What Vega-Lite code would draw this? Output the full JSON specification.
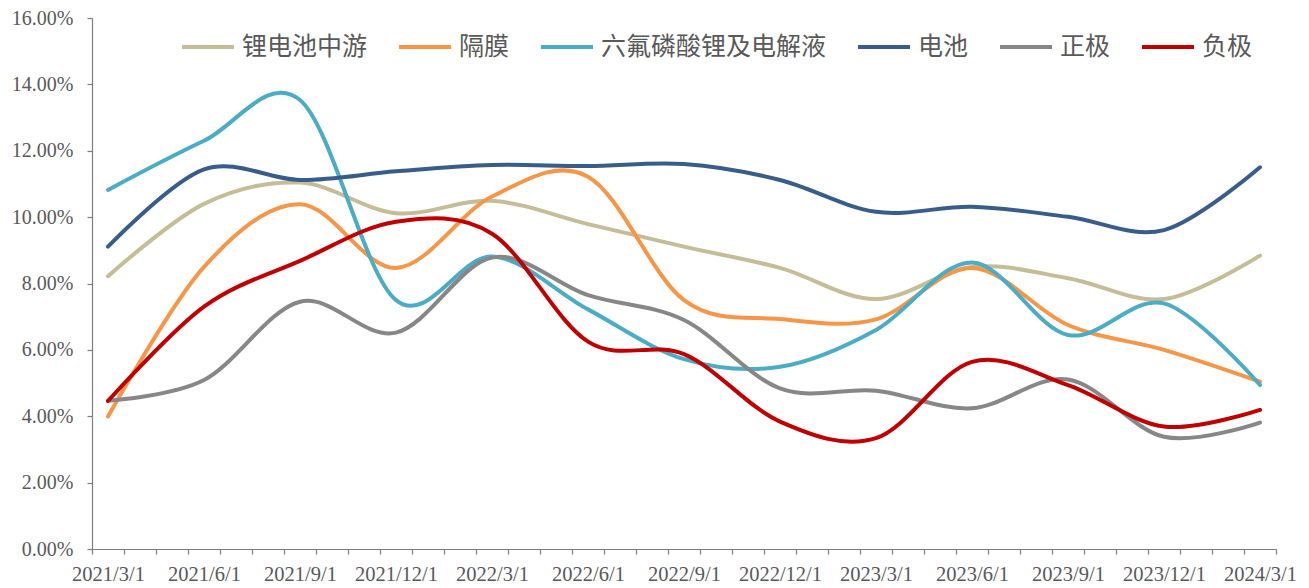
{
  "$schema": "https://vega.github.io/schema/vega-lite/v6.json",
  "width": 1184,
  "height": 531,
  "autosize": {"type": "none"},
  "padding": {"left": 92, "top": 18, "right": 33, "bottom": 39},
  "background": "white",
  "config": {"view": {"stroke": null}},
  "data": {"values": [
    {"date": "2021-03", "series": "锂电池中游", "value": 0.0822},
    {"date": "2021-06", "series": "锂电池中游", "value": 0.1040},
    {"date": "2021-09", "series": "锂电池中游", "value": 0.1104},
    {"date": "2021-12", "series": "锂电池中游", "value": 0.1012},
    {"date": "2022-03", "series": "锂电池中游", "value": 0.1049},
    {"date": "2022-06", "series": "锂电池中游", "value": 0.0979},
    {"date": "2022-09", "series": "锂电池中游", "value": 0.0911},
    {"date": "2022-12", "series": "锂电池中游", "value": 0.0847},
    {"date": "2023-03", "series": "锂电池中游", "value": 0.0753},
    {"date": "2023-06", "series": "锂电池中游", "value": 0.0850},
    {"date": "2023-09", "series": "锂电池中游", "value": 0.0816},
    {"date": "2023-12", "series": "锂电池中游", "value": 0.0753},
    {"date": "2024-03", "series": "锂电池中游", "value": 0.0884},
    {"date": "2021-03", "series": "隔膜", "value": 0.0399},
    {"date": "2021-06", "series": "隔膜", "value": 0.0850},
    {"date": "2021-09", "series": "隔膜", "value": 0.1039},
    {"date": "2021-12", "series": "隔膜", "value": 0.0847},
    {"date": "2022-03", "series": "隔膜", "value": 0.1062},
    {"date": "2022-06", "series": "隔膜", "value": 0.1122},
    {"date": "2022-09", "series": "隔膜", "value": 0.0750},
    {"date": "2022-12", "series": "隔膜", "value": 0.0693},
    {"date": "2023-03", "series": "隔膜", "value": 0.0692},
    {"date": "2023-06", "series": "隔膜", "value": 0.0847},
    {"date": "2023-09", "series": "隔膜", "value": 0.0675},
    {"date": "2023-12", "series": "隔膜", "value": 0.0600},
    {"date": "2024-03", "series": "隔膜", "value": 0.0504},
    {"date": "2021-03", "series": "六氟磷酸锂及电解液", "value": 0.1082},
    {"date": "2021-06", "series": "六氟磷酸锂及电解液", "value": 0.1230},
    {"date": "2021-09", "series": "六氟磷酸锂及电解液", "value": 0.1353},
    {"date": "2021-12", "series": "六氟磷酸锂及电解液", "value": 0.0750},
    {"date": "2022-03", "series": "六氟磷酸锂及电解液", "value": 0.0881},
    {"date": "2022-06", "series": "六氟磷酸锂及电解液", "value": 0.0722},
    {"date": "2022-09", "series": "六氟磷酸锂及电解液", "value": 0.0572},
    {"date": "2022-12", "series": "六氟磷酸锂及电解液", "value": 0.0549},
    {"date": "2023-03", "series": "六氟磷酸锂及电解液", "value": 0.0660},
    {"date": "2023-06", "series": "六氟磷酸锂及电解液", "value": 0.0863},
    {"date": "2023-09", "series": "六氟磷酸锂及电解液", "value": 0.0645},
    {"date": "2023-12", "series": "六氟磷酸锂及电解液", "value": 0.0740},
    {"date": "2024-03", "series": "六氟磷酸锂及电解液", "value": 0.0494},
    {"date": "2021-03", "series": "电池", "value": 0.0911},
    {"date": "2021-06", "series": "电池", "value": 0.1144},
    {"date": "2021-09", "series": "电池", "value": 0.1112},
    {"date": "2021-12", "series": "电池", "value": 0.1138},
    {"date": "2022-03", "series": "电池", "value": 0.1157},
    {"date": "2022-06", "series": "电池", "value": 0.1154},
    {"date": "2022-09", "series": "电池", "value": 0.1160},
    {"date": "2022-12", "series": "电池", "value": 0.1112},
    {"date": "2023-03", "series": "电池", "value": 0.1016},
    {"date": "2023-06", "series": "电池", "value": 0.1031},
    {"date": "2023-09", "series": "电池", "value": 0.1001},
    {"date": "2023-12", "series": "电池", "value": 0.0961},
    {"date": "2024-03", "series": "电池", "value": 0.1150},
    {"date": "2021-03", "series": "正极", "value": 0.0447},
    {"date": "2021-06", "series": "正极", "value": 0.0509},
    {"date": "2021-09", "series": "正极", "value": 0.0745},
    {"date": "2021-12", "series": "正极", "value": 0.0652},
    {"date": "2022-03", "series": "正极", "value": 0.0878},
    {"date": "2022-06", "series": "正极", "value": 0.0765},
    {"date": "2022-09", "series": "正极", "value": 0.0690},
    {"date": "2022-12", "series": "正极", "value": 0.0484},
    {"date": "2023-03", "series": "正极", "value": 0.0477},
    {"date": "2023-06", "series": "正极", "value": 0.0424},
    {"date": "2023-09", "series": "正极", "value": 0.0511},
    {"date": "2023-12", "series": "正极", "value": 0.0338},
    {"date": "2024-03", "series": "正极", "value": 0.0381},
    {"date": "2021-03", "series": "负极", "value": 0.0446},
    {"date": "2021-06", "series": "负极", "value": 0.0730},
    {"date": "2021-09", "series": "负极", "value": 0.0868},
    {"date": "2021-12", "series": "负极", "value": 0.0986},
    {"date": "2022-03", "series": "负极", "value": 0.0950},
    {"date": "2022-06", "series": "负极", "value": 0.0625},
    {"date": "2022-09", "series": "负极", "value": 0.0587},
    {"date": "2022-12", "series": "负极", "value": 0.0384},
    {"date": "2023-03", "series": "负极", "value": 0.0334},
    {"date": "2023-06", "series": "负极", "value": 0.0564},
    {"date": "2023-09", "series": "负极", "value": 0.0494},
    {"date": "2023-12", "series": "负极", "value": 0.0369},
    {"date": "2024-03", "series": "负极", "value": 0.0419}
  ]},
  "mark": {"type": "line", "interpolate": "cardinal", "strokeWidth": 4, "strokeCap": "round"},
  "encoding": {
    "x": {
      "field": "date",
      "type": "ordinal",
      "bandPosition": 0.5,
      "scale": {
        "type": "band",
        "paddingInner": 0,
        "paddingOuter": 0,
        "domain": ["2021-03","2021-04","2021-05","2021-06","2021-07","2021-08","2021-09","2021-10","2021-11","2021-12",
                   "2022-01","2022-02","2022-03","2022-04","2022-05","2022-06","2022-07","2022-08","2022-09","2022-10","2022-11","2022-12",
                   "2023-01","2023-02","2023-03","2023-04","2023-05","2023-06","2023-07","2023-08","2023-09","2023-10","2023-11","2023-12",
                   "2024-01","2024-02","2024-03"]
      },
      "axis": {
        "title": null,
        "tickBand": "extent",
        "labelAngle": 0,
        "labelOverlap": false,
        "labelExpr": "(parseInt(substring(datum.value,5,7)) % 3 == 0) ? (substring(datum.value,0,4) + '/' + parseInt(substring(datum.value,5,7)) + '/1') : ''",
        "labelFont": "Liberation Serif",
        "labelFontSize": 20.5,
        "labelColor": "#595959",
        "labelPadding": 10,
        "tickSize": 5,
        "tickColor": "#7F7F7F",
        "domainColor": "#7F7F7F",
        "tickWidth": 1.2,
        "domainWidth": 1.2,
        "grid": false
      }
    },
    "y": {
      "field": "value",
      "type": "quantitative",
      "scale": {"domain": [0, 0.16], "nice": false, "zero": true},
      "axis": {
        "title": null,
        "values": [0, 0.02, 0.04, 0.06, 0.08, 0.1, 0.12, 0.14, 0.16],
        "format": ".2%",
        "labelFont": "Liberation Serif",
        "labelFontSize": 20,
        "labelColor": "#595959",
        "labelPadding": 14,
        "tickSize": 5,
        "tickColor": "#7F7F7F",
        "domainColor": "#7F7F7F",
        "tickWidth": 1.2,
        "domainWidth": 1.2,
        "grid": false
      }
    },
    "color": {
      "field": "series",
      "type": "nominal",
      "scale": {
        "domain": ["锂电池中游", "隔膜", "六氟磷酸锂及电解液", "电池", "正极", "负极"],
        "range": ["#C4BD97", "#F79646", "#4BACC6", "#385D8A", "#878787", "#C00000"]
      },
      "legend": {
        "title": null,
        "orient": "none",
        "direction": "horizontal",
        "columns": 6,
        "legendX": 88,
        "legendY": 1,
        "symbolType": "stroke",
        "symbolSize": 2704,
        "symbolStrokeWidth": 4,
        "labelFont": "Noto Sans CJK SC",
        "labelFontSize": 25,
        "labelColor": "#595959",
        "labelLimit": 400,
        "labelOffset": 6,
        "columnPadding": 23,
        "padding": 0
      }
    }
  }
}
